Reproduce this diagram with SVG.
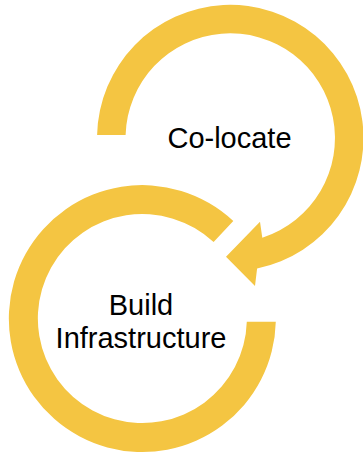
<svg xmlns="http://www.w3.org/2000/svg" width="363" height="454" viewBox="0 0 363 454">
<style>
.ring{fill:#F4C542;stroke:none}
.lbl{font-family:"Liberation Sans",Arial,sans-serif;font-size:29px;fill:#000;text-anchor:middle}
</style>
<rect width="363" height="454" fill="#fff"/>
<g id="connectors">
<path class="ring" d="M97.1 135 A133.2 133.2 0 1 1 257.1 268.5 L255 286 L226 256.7 L260 221.7 L262.3 237.7 A104.7 104.7 0 1 0 125.6 135 Z"/>
<path class="ring" d="M275.8 321.7 A133.5 133.5 0 1 1 233.3 220.9 L213.6 242.1 A104.5 104.5 0 1 0 246.8 321.7 Z"/>
</g>
<g id="colocate">
<text class="lbl" x="229.5" y="148">Co-locate</text>
</g>
<g id="build">
<text class="lbl" x="141" y="315">Build</text>
<text class="lbl" x="141" y="348">Infrastructure</text>
</g>
</svg>
